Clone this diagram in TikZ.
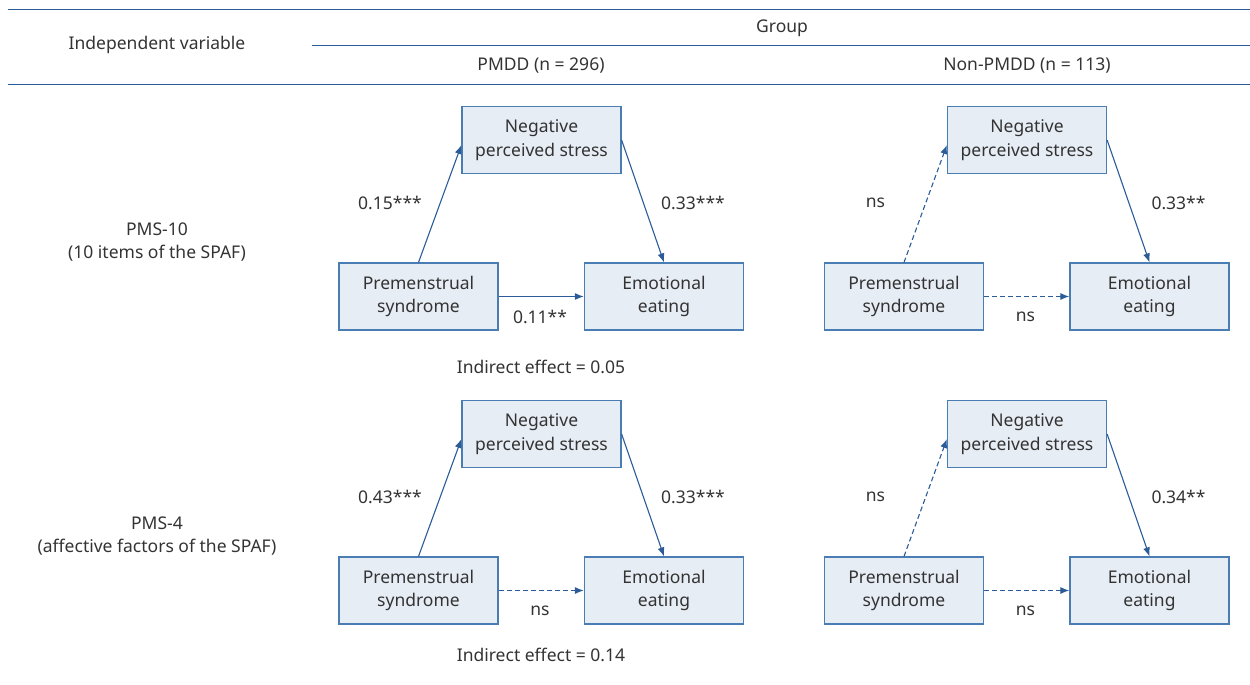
\documentclass[tikz,border=0pt]{standalone}
\usepackage{fontspec}
\setmainfont{Noto Sans}
\usetikzlibrary{arrows.meta}
\definecolor{lineblue}{HTML}{2B5C97}
\definecolor{boxfill}{HTML}{E7EDF5}
\definecolor{boxline}{HTML}{4A7DB3}
\definecolor{txt}{HTML}{333333}
\tikzset{
  varbox/.style={draw=boxline, fill=boxfill, line width=1.2pt, minimum width=159pt, minimum height=67pt, align=center, inner sep=0pt, text=txt},
  lbl/.style={text=txt, inner sep=0pt},
  path/.style={draw=lineblue, line width=1.1pt, -{Latex[length=9pt,width=7pt]}},
  nspath/.style={path, dash pattern=on 5pt off 3pt},
  rule/.style={draw=lineblue, line width=1pt}
}
% #1 prefix, #2 x of NPS centre, #3 y of NPS centre, #4 style a, #5 label a, #6 label b, #7 style c, #8 label c
\newcommand\mytriad[8]{%
  \node[varbox] (#1n) at (#2,#3) {Negative\\perceived stress};
  \node[varbox] (#1p) at ({#2-123},{#3+156.5}) {Premenstrual\\syndrome};
  \node[varbox] (#1e) at ({#2+122.5},{#3+156.5}) {Emotional\\eating};
  \draw[#4] (#1p.north) -- ([yshift=-5pt]#1n.west);
  \draw[path] (#1n.east) -- (#1e.north);
  \draw[#7] (#1p.east) -- (#1e.west);
  \node[lbl] (#1la) at ({#2-151.5},{#3+63}) {#5};
  \node[lbl] (#1lb) at ({#2+151.5},{#3+63}) {#6};
  \node[lbl] (#1lc) at ({#2-1.5},{#3+177}) {#8};
}
\begin{document}
\begin{tikzpicture}[x=1pt,y=-1pt, font=\fontsize{17.5}{23.5}\selectfont, text=txt]
\useasboundingbox (0,0) rectangle (1250,685);
\coordinate (t1) at (8,10); \coordinate (t2) at (1250,10);
\coordinate (g1) at (312,46); \coordinate (g2) at (1250,46);
\coordinate (h1) at (8,84); \coordinate (h2) at (1250,84);
\draw[rule] (t1) -- (t2);
\draw[rule] (g1) -- (g2);
\draw[rule] (h1) -- (h2);
\node[lbl] (iv) at (157,45) {Independent variable};
\node[lbl] (grp) at (782,28) {Group};
\node[lbl] (pmdd) at (541,66) {PMDD (n = 296)};
\node[lbl] (npmdd) at (1027,66) {Non-PMDD (n = 113)};
\node[lbl, align=center] (pms10) at (157,242) {PMS-10\\(10 items of the SPAF)};
\node[lbl, align=center] (pms4) at (157,536) {PMS-4\\(affective factors of the SPAF)};
\mytriad{a}{541.5}{140}{path}{0.15***}{0.33***}{path}{0.11**}
\mytriad{b}{1027}{140}{nspath}{ns}{0.33**}{nspath}{ns}
\mytriad{c}{541.5}{434}{path}{0.43***}{0.33***}{nspath}{ns}
\mytriad{d}{1027}{434}{nspath}{ns}{0.34**}{nspath}{ns}
\node[lbl] (ind1) at (541,367) {Indirect effect = 0.05};
\node[lbl] (ind2) at (541,655) {Indirect effect = 0.14};
\end{tikzpicture}
\end{document}
